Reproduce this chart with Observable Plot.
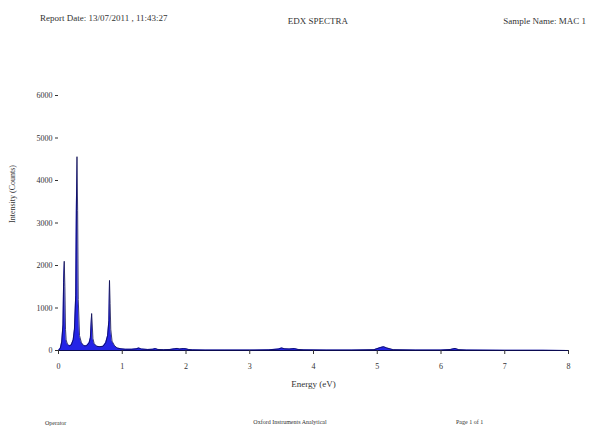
<!DOCTYPE html>
<html><head><meta charset="utf-8">
<script src="https://cdn.jsdelivr.net/npm/d3@7"></script>
<script src="https://cdn.jsdelivr.net/npm/@observablehq/plot@0.6"></script>
<style>
body{margin:0;background:#fff;font-family:"Liberation Serif","DejaVu Serif",serif;}
#wrap{position:relative;width:592px;height:430px;overflow:hidden;}
.t{position:absolute;font-size:9px;color:#333;white-space:nowrap;}
#chart{position:absolute;left:0;top:80px;}
</style></head><body>
<div id="wrap">
<div class="t" id="hdrL" style="left:40px;top:13px;">Report Date: 13/07/2011 , 11:43:27</div>
<div class="t" id="hdrC" style="left:258px;top:16px;width:120px;text-align:center;">EDX SPECTRA</div>
<div class="t" id="hdrR" style="right:6px;top:16px;">Sample Name: MAC 1</div>
<div id="chart"></div>
<div class="t" style="left:45px;top:420px;font-size:6px;">Operator</div>
<div class="t" style="left:225px;top:419px;width:130px;text-align:center;font-size:6px;">Oxford Instruments Analytical</div>
<div class="t" style="left:456px;top:419px;font-size:6px;">Page 1 of 1</div>
</div>
<script>
const energy = [0.00,0.03,0.05,0.07,0.08,0.09,0.10,0.11,0.12,0.14,0.17,0.20,0.23,0.25,0.27,0.28,0.29,0.30,0.31,0.33,0.36,0.40,0.44,0.48,0.50,0.52,0.53,0.54,0.56,0.60,0.65,0.70,0.74,0.77,0.79,0.80,0.81,0.82,0.84,0.88,0.92,0.98,1.05,1.15,1.22,1.26,1.30,1.40,1.48,1.52,1.56,1.65,1.75,1.82,1.86,1.90,1.96,2.00,2.04,2.10,2.30,2.60,3.00,3.30,3.45,3.50,3.55,3.62,3.70,3.76,3.85,4.20,4.60,4.95,5.05,5.10,5.15,5.25,5.60,6.00,6.15,6.22,6.28,6.40,7.00,7.60,8.00];
const counts = [0,60,200,600,1600,2100,1500,500,250,150,110,130,250,500,1300,3350,4560,3300,1200,350,180,110,110,180,300,870,600,280,160,100,90,100,180,350,700,1650,1100,500,220,110,60,40,30,30,40,60,35,25,30,45,25,20,25,40,50,35,45,40,25,15,10,10,10,15,35,60,40,35,45,25,15,10,10,20,70,90,60,20,10,10,25,50,20,10,5,5,0];
const xTicks = [0,1,2,3,4,5,6,7,8];
const yTicks = [0,1000,2000,3000,4000,5000,6000];
const xLabel = "Energy (eV)";
const yLabel = "Intensity (Counts)";

const data = energy.map((e,i)=>({e, c: counts[i]}));
const plot = Plot.plot({
  width: 592, height: 320,
  marginLeft: 58, marginRight: 24, marginTop: 15, marginBottom: 50,
  style: {fontFamily: '"Liberation Serif", serif', fontSize: "8px", color: "#333", background: "#fff"},
  x: {domain: [0, 8], ticks: xTicks, tickFormat: d3.format("d"), tickSize: 4, label: null},
  y: {domain: [0, 6000], ticks: yTicks, tickSize: 3, label: null},
  marks: [
    Plot.areaY(data, {x: "e", y: "c", fill: "#2424e6", curve: "linear"}),
    Plot.lineY(data, {x: "e", y: "c", stroke: "#0a0a50", strokeWidth: 0.8}),
    Plot.ruleY([0], {stroke: "#0a0a50", strokeWidth: 1.2}),
    Plot.axisX({ticks: xTicks, tickFormat: d3.format("d"), tickSize: 4, tickPadding: 9, label: null}),
    Plot.axisY({ticks: yTicks, tickFormat: d3.format("d"), tickSize: 3, tickPadding: 3, label: null}),
    Plot.text([xLabel], {frameAnchor: "bottom", dy: 36, fontSize: 9, fill: "#333"}),
    Plot.text([yLabel], {frameAnchor: "left", dx: -46, rotate: -90, fontSize: 8, fill: "#333"})
  ]
});
document.getElementById("chart").appendChild(plot);
</script>
</body></html>
